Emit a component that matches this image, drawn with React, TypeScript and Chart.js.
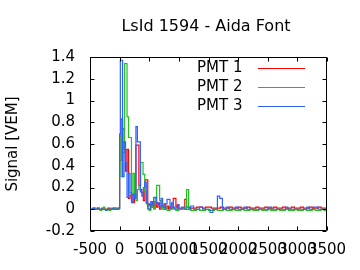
import React, { useEffect, useRef } from "react";
import { Chart, registerables } from "chart.js";
Chart.register(...registerables);

const TITLE = "LsId 1594 - Aida Font";
const Y_LABEL = "Signal [VEM]";
const SERIES_NAMES = ["PMT 1", "PMT 2", "PMT 3"];
const COLORS = ["#ff0000", "#20c020", "#3060ff"];
const X_TICKS = [-500, 0, 500, 1000, 1500, 2000, 2500, 3000, 3500];
const Y_TICKS = [-0.2, 0, 0.2, 0.4, 0.6, 0.8, 1, 1.2, 1.4];

// PMT 1 (step starts)
const T1 = [-500, -440, -420, -380, -350, -300, -270, -200, -160, -100, -60, -20, 0, 25, 50, 75, 100, 125, 150, 175, 225, 250, 275, 325, 350, 375, 400, 425, 475, 500, 525, 550, 575, 600, 625, 650, 675, 700, 725, 750, 775, 800, 825, 850, 875, 905, 950, 975, 1000, 1050, 1100, 1130, 1175, 1250, 1300, 1400, 1450, 1550, 1600, 1700, 1750, 1850, 1900, 2000, 2050, 2150, 2200, 2300, 2350, 2450, 2500, 2600, 2650, 2750, 2800, 2900, 2950, 3050, 3100, 3200, 3250, 3350, 3400, 3500];
const V1 = [0, 0.01, 0, 0.01, 0, 0.01, 0, 0.01, 0, 0.01, 0, 0.01, 0.45, 0.83, 0.74, 0.55, 0.35, 0.55, 0.1, 0.13, 0.06, 0.1, 0.59, 0.22, 0.18, 0.15, 0.08, 0.27, 0.03, 0.05, 0.02, 0.07, 0.01, 0.07, 0.02, 0.06, 0, 0.03, 0.02, 0.05, 0.01, 0.03, 0, 0.02, 0.01, 0.1, 0.02, 0.04, 0, 0.01, 0.09, 0.02, 0.01, 0.01, 0.02, 0.01, 0.02, 0.01, 0.01, 0.02, 0.01, 0.02, 0.01, 0.02, 0.01, 0.02, 0.01, 0.02, 0.01, 0.02, 0.01, 0.02, 0.01, 0.02, 0.01, 0.02, 0.01, 0.02, 0.01, 0.02, 0.01, 0.02, 0.01, 0.01];

// PMT 2
const T2 = [-500, -420, -400, -330, -300, -270, -250, -180, -150, -80, -50, 0, 25, 50, 85, 125, 150, 200, 225, 250, 275, 300, 325, 355, 395, 425, 450, 475, 500, 525, 550, 575, 600, 625, 675, 700, 725, 775, 800, 850, 900, 950, 1000, 1130, 1165, 1200, 1300, 1350, 1450, 1500, 1600, 1650, 1750, 1800, 1900, 1950, 2050, 2100, 2200, 2250, 2350, 2400, 2500, 2550, 2650, 2700, 2800, 2850, 2950, 3000, 3100, 3150, 3250, 3300, 3400, 3450, 3500];
const V2 = [0, 0.01, 0, -0.01, 0, 0.02, 0, -0.01, 0, 0.01, 0, 0.68, 0.3, 0.52, 1.34, 0.85, 0.66, 0.13, 0.33, 0.14, 0.08, 0.18, 0.22, 0.43, 0.32, 0.16, 0.05, 0.01, -0.01, 0.04, 0.02, 0, 0.1, 0.22, 0.08, 0.05, 0, 0.02, -0.01, 0, 0.01, -0.01, 0, 0.18, 0, -0.01, 0, -0.01, 0, -0.01, 0, -0.01, 0, -0.01, 0, -0.01, 0, -0.01, 0, -0.01, 0, -0.01, 0, -0.01, 0, -0.01, 0, -0.01, 0, -0.01, 0, -0.01, 0, -0.01, 0, -0.01, -0.01];

// PMT 3
const T3 = [-500, -460, -430, -370, -340, -240, -210, -130, -100, -30, 0, 12, 50, 75, 100, 125, 150, 175, 200, 225, 250, 275, 300, 350, 375, 400, 425, 450, 475, 525, 550, 575, 625, 650, 675, 700, 725, 750, 775, 800, 850, 875, 900, 925, 975, 1000, 1050, 1100, 1200, 1250, 1350, 1400, 1525, 1575, 1650, 1690, 1735, 1800, 1850, 1950, 2000, 2100, 2150, 2520, 2565, 2800, 2840, 3160, 3200, 3270, 3350, 3500];
const V3 = [0, 0.01, 0, 0.01, 0, -0.01, 0, 0.01, 0, 0.01, 0.69, 1.37, 0.3, 0.62, 0.43, 0.11, 0.33, 0.15, 0.06, 0.14, 0.1, 0.76, 0.62, 0.16, 0.12, 0.2, 0.25, 0.06, 0, 0.07, 0.04, 0.11, 0.06, 0.04, 0.02, 0.1, 0.03, 0, 0.05, 0.09, 0.01, 0.06, 0.02, 0, 0.04, 0.01, 0.02, 0, 0.03, 0, 0.02, 0, -0.03, 0, 0.12, 0.1, 0, 0.02, 0, 0.02, 0, 0.02, 0, 0.02, 0, 0.02, 0, 0.02, 0, 0.02, 0, 0];

const FONT = "15px 'DejaVu Sans'";
const TITLE_FONT = "16px 'DejaVu Sans'";

const framePlugin = {
  id: "frameTicks",
  afterDraw(chart: any) {
    const ctx = chart.ctx;
    const a = chart.chartArea;
    const xs = chart.scales.x;
    const ys = chart.scales.y;
    ctx.save();
    ctx.strokeStyle = "#000";
    ctx.lineWidth = 1;
    const L = Math.round(a.left) + 0.5;
    const R = Math.round(a.right) - 0.5;
    const T = Math.round(a.top) + 0.5;
    const B = Math.round(a.bottom) - 0.5;
    ctx.beginPath();
    ctx.rect(L, T, R - L, B - T);
    const tl = 4;
    X_TICKS.forEach((v) => {
      const px = Math.round(xs.getPixelForValue(v)) + 0.5;
      ctx.moveTo(px, B);
      ctx.lineTo(px, B - tl);
      ctx.moveTo(px, T);
      ctx.lineTo(px, T + tl);
    });
    Y_TICKS.forEach((v) => {
      const py = Math.round(ys.getPixelForValue(v)) + 0.5;
      ctx.moveTo(L, py);
      ctx.lineTo(L + tl, py);
      ctx.moveTo(R, py);
      ctx.lineTo(R - tl, py);
    });
    ctx.stroke();

    ctx.fillStyle = "#000";
    ctx.font = TITLE_FONT;
    ctx.textAlign = "center";
    ctx.textBaseline = "middle";
    ctx.fillText(TITLE, 206, 27);

    ctx.font = FONT;
    ctx.save();
    ctx.translate(13, 144);
    ctx.rotate(-Math.PI / 2);
    ctx.fillText(Y_LABEL, 0, 0);
    ctx.restore();

    ctx.textAlign = "left";
    const rows = [68, 87, 106];
    SERIES_NAMES.forEach((n, i) => {
      ctx.fillStyle = "#000";
      ctx.fillText(n, 197, rows[i]);
      ctx.strokeStyle = COLORS[i];
      ctx.beginPath();
      ctx.moveTo(258, rows[i] + 0.5);
      ctx.lineTo(305, rows[i] + 0.5);
      ctx.stroke();
    });
    ctx.restore();
  },
};

export default function App() {
  const ref = useRef<HTMLCanvasElement>(null);
  useEffect(() => {
    document.body.style.margin = "0";
    const series = [
      [T1, V1],
      [T2, V2],
      [T3, V3],
    ];
    const chart = new Chart(ref.current!, {
      type: "line",
      data: {
        datasets: series.map(([t, v], i) => ({
          label: SERIES_NAMES[i],
          data: t.map((x, j) => ({ x, y: v[j] })),
          borderColor: COLORS[i],
          borderWidth: 1.2,
          pointRadius: 0,
          stepped: "before" as const,
          fill: false,
          order: 3 - i,
        })),
      },
      options: {
        animation: false,
        responsive: false,
        devicePixelRatio: 1,
        layout: { padding: { left: 0, right: 33, top: 57, bottom: 0 } },
        plugins: { legend: { display: false }, title: { display: false }, tooltip: { enabled: false } },
        scales: {
          x: {
            type: "linear",
            min: -500,
            max: 3500,
            grid: { display: false, drawTicks: false },
            border: { display: false },
            afterBuildTicks: (s: any) => {
              s.ticks = X_TICKS.map((value) => ({ value }));
            },
            afterFit: (s: any) => {
              s.height = 39;
            },
            ticks: {
              autoSkip: false,
              maxRotation: 0,
              minRotation: 0,
              padding: 10,
              color: "#000",
              font: { family: "DejaVu Sans", size: 15 },
              callback: (v: any) => String(v),
            },
          },
          y: {
            type: "linear",
            min: -0.2,
            max: 1.4,
            grid: { display: false, drawTicks: false },
            border: { display: false },
            afterBuildTicks: (s: any) => {
              s.ticks = Y_TICKS.map((value) => ({ value }));
            },
            afterFit: (s: any) => {
              s.width = 90;
            },
            ticks: {
              padding: 15,
              color: "#000",
              font: { family: "DejaVu Sans", size: 15 },
              callback: (v: any) => String(Math.round(Number(v) * 10) / 10),
            },
          },
        },
      },
      plugins: [framePlugin],
    });
    return () => chart.destroy();
  }, []);
  return (
    <div style={{ position: "absolute", left: 0, top: 0, width: 360, height: 270, background: "#fff" }}>
      <canvas ref={ref} width={360} height={270} />
    </div>
  );
}
